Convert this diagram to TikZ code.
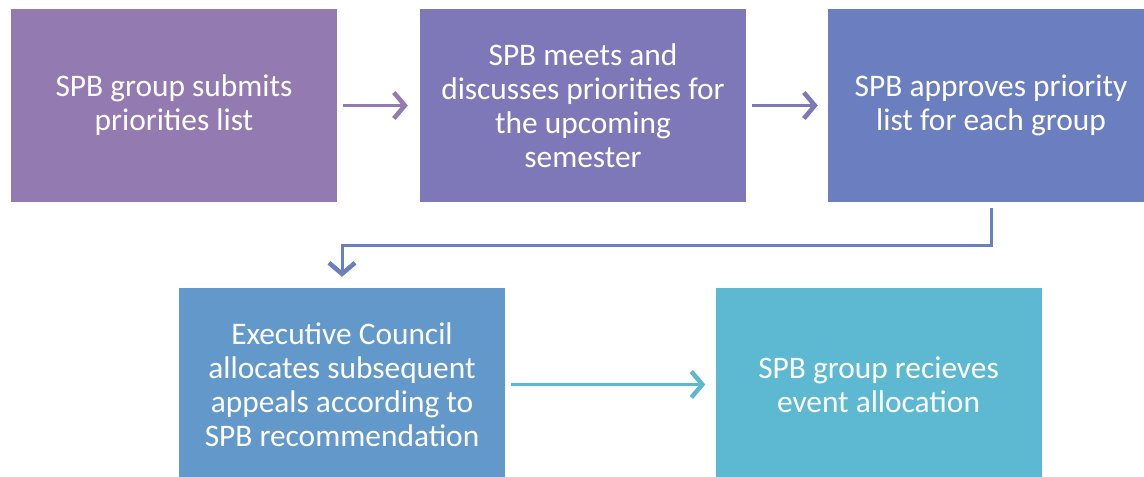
\documentclass[tikz,border=0pt]{standalone}
\usepackage{fontspec}
\setmainfont{Carlito}
\usetikzlibrary{arrows.meta}
\definecolor{cA}{HTML}{937AB0}
\definecolor{cB}{HTML}{7E77B8}
\definecolor{cC}{HTML}{6B7FC0}
\definecolor{cD}{HTML}{6399CA}
\definecolor{cE}{HTML}{5DB9D2}
\tikzset{
  stepbox/.style={rectangle, inner sep=0pt, minimum width=326bp, minimum height=193bp,
    text=white, align=center, font=\fontsize{31.5}{34}\selectfont},
  conn/.style={line width=3bp, -{Straight Barb[length=11bp,width=26bp,line width=4.5bp]}}
}
\begin{document}
\begin{tikzpicture}[x=1bp,y=-1bp]
\useasboundingbox (0,0) rectangle (1144,477);
\clip (0,0) rectangle (1144,477);
\node[stepbox, fill=cA] (a) at (174,105.5) {SPB group submits\\priorities list};
\node[stepbox, fill=cB] (b) at (583,105.5) {SPB meets and\\discusses priorities for\\the upcoming\\semester};
\node[stepbox, fill=cC] (c) at (991,105.5) {SPB approves priority\\list for each group};
\node[stepbox, fill=cD] (d) at (342,384.5) {Executive Council\\allocates subsequent\\appeals according to\\SPB recommendation};
\node[stepbox, fill=cE] (e) at (878.5,384.5) {SPB group recieves\\event allocation};
\draw[conn, cA, shorten <=6bp, shorten >=12bp] (a.east) -- (b.west);
\draw[conn, cB, shorten <=6bp, shorten >=10bp] (b.east) -- (c.west);
\draw[conn, cC, shorten <=6bp, shorten >=11bp] (c.south) -- ++(0,43) -| (d.north);
\draw[conn, cE, shorten <=6bp, shorten >=10bp] (d.east) -- (e.west);
\end{tikzpicture}
\end{document}
